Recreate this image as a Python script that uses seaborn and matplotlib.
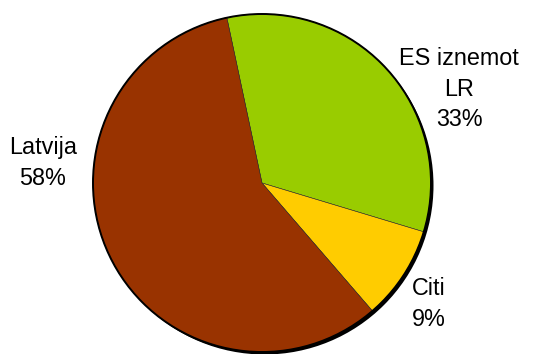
import matplotlib
matplotlib.use("Agg")
import matplotlib.pyplot as plt
import seaborn as sns
from matplotlib.patches import Circle

categories = ["ES iznemot\nLR", "Citi", "Latvija"]
values = [33, 9, 58]
colors = ["#99CC00", "#FFCC00", "#993300"]

sns.set_theme(style="white")
plt.rcParams['font.family'] = ['Liberation Sans', 'DejaVu Sans']

fig = plt.figure(figsize=(5.33, 3.54), dpi=100)
ax = fig.add_axes([0, 0, 1, 1])

cx, cy, r = 262, 171, 169
# shadow
ax.add_patch(Circle((cx + 2.5, cy - 2.5), r, facecolor='black', edgecolor='none', zorder=0))
wedges, _ = ax.pie(values, colors=colors, startangle=102, counterclock=False,
                   center=(cx, cy), radius=r, frame=True,
                   wedgeprops=dict(linewidth=0.4, edgecolor='#333333'))
for w in wedges:
    w.set_zorder(1)
ax.add_patch(Circle((cx, cy), r, facecolor='none', edgecolor='black', linewidth=1.4, zorder=2))
ax.set_xlim(0, 533)
ax.set_ylim(0, 354)
ax.set_aspect('equal')
ax.axis('off')

label_pos = [(459, 265), (429, 50), (43, 191)]
for lab, v, (x, y) in zip(categories, values, label_pos):
    ax.text(x, y, f"{lab}\n{v}%", ha='center', va='center', fontsize=16.8,
            linespacing=1.4, color='black')

fig.savefig("out.png", dpi=100)
